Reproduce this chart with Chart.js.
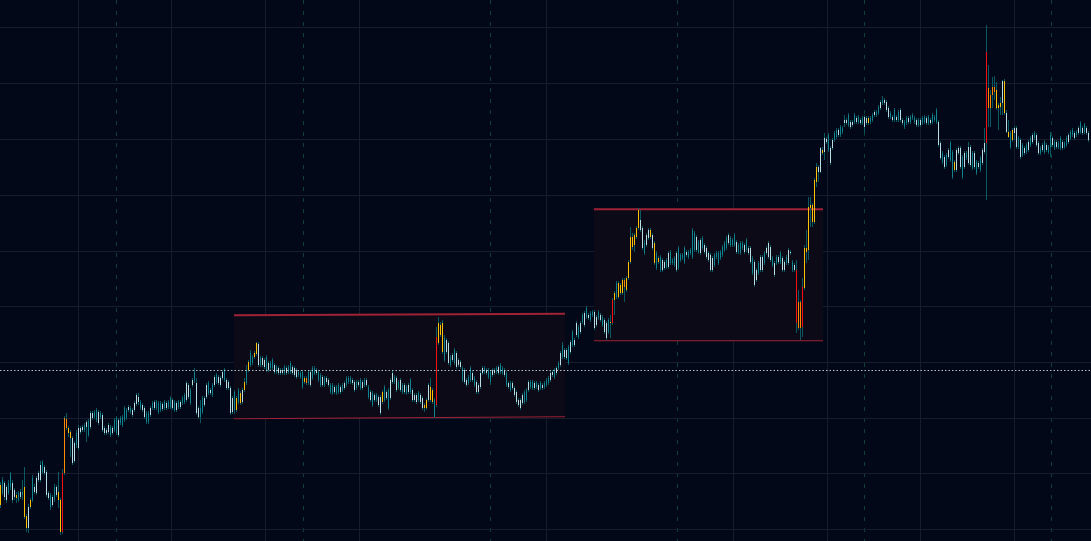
<!DOCTYPE html>
<html lang="en">
<head>
<meta charset="utf-8">
<title>Price chart</title>
<script src="https://cdn.jsdelivr.net/npm/chart.js@4.4.0/dist/chart.umd.min.js"></script>
<style>
  html, body { margin: 0; padding: 0; background: #020818; overflow: hidden; }
  #wrap { position: relative; width: 1091px; height: 541px; }
</style>
</head>
<body>
<div id="wrap"><canvas id="priceChart"></canvas></div>
<script>
// =================================================================
// DATA: one candle per bar (price in points)
// =================================================================
const open = [
  515,507,517,513,507,513,517,503,505,500, // 0
  508,505,513,484,472,493,500,513,507,520,
  520,538,533,528,507,505,495,500,513,508,
  500,468,527,581,572,568,562,539,555,572,
  568,570,570,573,579,573,587,583,590,588,
  583,585,572,567,568,573,567,570,582,565, // 50
  577,575,580,590,590,592,590,590,596,603,
  598,595,592,587,578,585,592,598,592,597,
  590,596,592,597,593,593,600,590,597,593,
  598,597,598,600,615,610,615,620,617,592,
  583,588,602,603,617,610,605,615,618,623, // 100
  622,622,620,620,618,612,588,590,602,598,
  607,598,610,617,630,635,643,643,646,656,
  635,642,640,630,637,632,632,635,628,632,
  630,627,627,632,628,628,633,632,630,625,
  623,613,622,622,617,628,622,627,630,628, // 150
  615,623,615,622,620,615,607,613,607,608,
  613,610,612,615,622,618,620,618,612,618,
  612,618,615,620,613,608,607,600,600,603,
  603,598,600,608,610,602,618,623,622,612,
  620,608,615,607,615,608,610,605,605,600, // 200
  605,602,595,592,600,613,610,600,595,657,
  675,677,662,648,657,643,640,637,647,640,
  638,632,630,620,617,620,627,622,618,615,
  613,627,632,630,630,628,625,630,628,633,
  628,632,630,627,617,617,612,612,608,600, // 250
  600,597,598,600,610,618,612,617,613,615,
  612,615,613,615,617,620,628,623,632,632,
  635,643,650,650,637,648,655,660,665,673,
  668,678,687,683,685,680,685,688,675,682,
  685,683,680,677,668,678,677,700,703,717, // 300
  707,707,720,710,722,738,763,755,763,772,
  780,772,757,755,762,770,765,757,747,738,
  743,730,738,733,733,737,740,735,747,732,
  745,742,738,748,743,747,743,767,763,748,
  760,752,755,752,747,745,730,735,747,737, // 350
  742,745,750,752,757,762,755,755,758,748,
  757,752,755,750,752,752,742,738,720,727,
  730,743,737,747,757,753,742,737,737,743,
  738,742,730,737,737,748,738,735,730,698,
  672,673,712,752,750,795,795,778,818,833, // 400
  828,850,848,861,865,852,852,860,863,870,
  865,872,877,880,875,878,878,878,882,878,
  880,877,883,877,882,878,880,885,885,887,
  892,897,900,898,892,883,883,880,883,880,
  890,880,878,877,882,878,882,882,880,875, // 450
  880,877,878,882,877,880,878,883,878,878,
  857,847,843,835,843,840,848,830,830,852,
  852,843,833,842,853,835,847,833,838,833,
  830,837,848,857,912,892,905,913,910,895,
  893,897,919,887,868,867,860,872,872,853, // 500
  860,845,852,848,850,855,858,862,865,857,
  847,850,848,855,848,853,862,858,853,853,
  852,858,853,855,858,862,865,867,865,867,
  868,872,868,872,867
];

const high = [
  518,523,519,515,520,528,520,512,508,509, // 0
  511,520,533,486,496,502,525,516,524,529,
  539,540,535,530,509,507,505,516,515,528,
  502,531,584,587,574,570,564,559,570,575,
  574,575,577,580,581,589,589,590,592,590,
  589,587,574,572,577,575,574,582,584,582, // 50
  584,585,594,592,595,594,592,599,607,607,
  600,597,594,589,589,594,599,600,600,599,
  599,598,600,599,600,604,602,600,599,600,
  600,604,607,619,617,612,622,632,622,594,
  600,604,604,617,619,612,617,625,627,625, // 100
  624,630,632,622,620,614,604,610,604,612,
  609,612,622,635,640,650,645,649,658,658,
  644,644,642,645,639,639,642,637,635,634,
  632,632,635,634,635,639,635,634,632,630,
  629,630,624,624,630,630,634,634,632,630, // 150
  627,625,624,624,622,617,617,615,615,617,
  615,617,619,624,624,624,622,620,620,620,
  622,620,622,622,615,610,609,607,607,605,
  605,610,615,610,612,622,629,625,624,620,
  622,617,617,615,617,622,612,607,607,609, // 200
  607,604,597,602,617,622,612,602,673,683,
  678,680,665,662,659,645,647,652,649,642,
  640,634,632,622,625,634,629,624,620,617,
  629,634,634,632,632,630,632,632,634,635,
  637,634,632,629,619,619,619,614,610,602, // 250
  602,607,610,612,620,620,620,619,619,617,
  619,617,619,622,624,629,630,632,634,639,
  649,658,652,652,655,660,670,662,679,675,
  679,687,689,694,687,689,690,690,685,690,
  687,685,682,679,682,685,702,709,719,719, // 300
  717,722,722,724,740,773,767,767,774,792,
  790,774,760,767,772,772,767,759,749,744,
  745,742,740,742,749,750,742,744,749,754,
  747,747,754,750,750,752,772,769,765,760,
  762,764,757,754,749,747,744,747,749,749, // 350
  750,755,759,764,767,764,762,767,760,757,
  759,759,757,762,754,754,744,740,732,739,
  745,745,749,754,759,755,744,739,745,745,
  749,744,740,745,752,750,740,737,740,710,
  700,722,755,770,803,803,797,822,837,835, // 400
  853,853,867,863,867,854,862,869,872,872,
  875,874,885,882,887,880,880,887,884,885,
  882,884,885,884,884,884,887,890,890,895,
  900,904,902,900,894,889,885,892,885,890,
  892,882,880,884,884,885,887,884,882,882, // 450
  882,884,885,884,885,882,887,885,892,880,
  859,849,845,847,852,859,850,840,852,854,
  854,845,849,849,858,855,849,849,840,839,
  844,852,872,975,935,910,923,924,918,897,
  903,920,921,890,880,869,872,874,874,864, // 500
  862,857,854,857,860,864,867,869,867,859,
  854,857,860,857,855,868,864,860,860,859,
  864,860,859,864,867,870,872,869,870,874,
  879,874,877,874,869
];

const low = [
  492,505,500,497,505,510,497,500,497,498, // 0
  501,500,481,468,467,491,498,506,505,518,
  518,526,525,503,500,490,493,498,503,492,
  465,466,525,570,563,543,535,537,552,550,
  566,568,568,558,563,571,580,581,578,575,
  581,568,565,565,566,563,565,568,565,563, // 50
  575,573,578,580,588,586,583,588,594,595,
  590,588,581,576,576,583,590,590,590,586,
  588,589,590,590,591,591,590,588,588,591,
  591,595,596,598,601,595,613,617,585,581,
  577,586,593,601,605,605,603,613,616,615, // 100
  613,620,618,610,610,585,586,586,588,596,
  595,596,608,615,628,633,635,641,644,633,
  633,633,631,628,628,630,630,626,626,625,
  625,625,625,625,626,626,625,623,621,623,
  621,611,616,615,615,613,620,625,625,618, // 150
  613,613,613,616,613,606,605,606,605,606,
  606,608,610,613,616,616,615,608,610,613,
  610,610,613,613,601,598,593,598,598,593,
  585,596,598,600,590,600,616,616,608,610,
  608,606,606,605,606,606,598,598,596,598, // 200
  596,590,588,590,598,598,596,582,593,655,
  663,646,638,646,635,633,638,635,631,633,
  631,618,616,613,615,618,618,613,606,606,
  611,625,626,625,621,615,623,625,626,625,
  626,625,623,613,611,608,610,603,596,593, // 250
  590,595,596,598,608,611,610,610,611,608,
  610,610,611,613,615,618,623,621,625,630,
  633,641,641,640,635,646,653,653,663,661,
  666,676,673,681,680,678,683,670,673,680,
  678,673,666,660,666,662,675,685,701,701, // 300
  705,705,698,708,720,736,750,748,761,770,
  768,750,745,753,760,761,750,735,730,736,
  728,728,730,731,731,735,735,733,728,730,
  738,740,736,743,741,745,741,748,748,746,
  745,750,746,741,738,728,728,733,741,735, // 350
  740,743,748,750,755,753,753,753,746,746,
  745,750,746,748,745,736,725,713,718,725,
  728,728,735,745,741,738,733,723,735,736,
  736,728,728,735,735,745,728,728,667,670,
  660,663,710,737,740,773,773,776,813,818, // 400
  827,845,840,856,848,835,850,858,861,863,
  863,866,873,875,873,871,873,876,876,876,
  875,875,867,875,875,876,878,883,883,885,
  890,895,895,888,881,881,878,878,878,878,
  878,875,871,875,876,876,880,876,873,873, // 450
  873,875,876,875,875,875,876,878,876,853,
  840,836,831,833,841,838,821,828,828,845,
  831,821,831,840,835,833,830,831,825,831,
  828,835,846,800,873,873,892,900,890,870,
  885,885,885,867,862,851,858,860,851,851, // 500
  841,843,845,846,848,853,856,860,853,845,
  845,848,846,848,846,843,853,850,851,851,
  850,850,851,853,856,860,863,860,863,865,
  866,865,866,865,858
];

const close = [
  495,520,503,500,517,526,500,510,502,507, // 0
  503,508,483,472,493,500,522,508,522,527,
  535,528,527,505,502,493,503,513,505,500,
  468,527,582,572,567,562,537,557,567,552,
  572,573,575,578,565,587,582,588,580,577,
  587,570,567,570,575,565,572,580,567,580, // 50
  582,583,592,582,593,588,585,597,605,598,
  592,590,583,578,587,592,597,592,598,588,
  597,591,598,592,598,602,592,598,590,598,
  593,602,605,617,603,597,620,628,587,583,
  592,602,595,615,607,607,615,623,625,617, // 100
  615,628,630,612,612,587,602,608,590,610,
  597,610,618,630,638,647,637,647,657,635,
  642,635,633,643,630,637,640,628,633,627,
  627,630,633,627,633,637,627,625,623,628,
  627,628,618,617,628,615,632,632,627,620, // 150
  625,615,622,618,615,608,615,608,613,615,
  608,615,617,622,618,622,617,610,618,615,
  620,612,620,615,603,600,595,605,605,595,
  587,608,613,602,592,620,627,618,610,618,
  610,615,608,613,608,620,600,600,598,607, // 200
  598,592,592,600,615,600,598,583,663,677,
  665,648,640,660,637,635,645,650,633,635,
  633,620,618,615,623,632,620,615,608,608,
  627,632,628,627,623,618,630,627,632,627,
  635,627,625,615,613,610,617,605,598,595, // 250
  592,605,608,610,618,613,618,612,617,610,
  617,612,617,620,622,627,625,630,627,637,
  647,655,643,642,653,658,668,655,677,663,
  677,685,675,692,682,687,688,672,683,688,
  680,675,668,662,680,677,700,707,717,703, // 300
  715,720,713,722,738,763,753,765,772,790,
  770,752,747,765,770,763,752,737,732,742,
  730,740,732,740,747,748,737,742,730,752,
  740,745,752,745,748,750,770,750,750,758,
  747,762,748,743,740,730,742,745,743,747, // 350
  748,753,757,762,765,755,760,765,748,755,
  747,757,748,760,747,738,727,715,730,737,
  743,730,747,752,743,740,735,725,743,738,
  747,730,738,743,750,747,730,730,677,672,
  698,713,752,748,793,792,778,820,833,828, // 400
  852,847,862,858,850,837,860,867,870,865,
  873,868,880,877,885,873,875,885,878,883,
  877,882,873,882,877,882,885,888,888,893,
  898,900,897,890,883,887,880,890,880,888,
  880,877,873,882,878,883,885,878,875,880, // 450
  875,882,883,877,883,877,885,880,890,855,
  842,838,833,845,850,857,823,838,850,847,
  833,823,847,847,837,853,832,847,827,837,
  842,850,857,948,892,905,913,908,892,892,
  897,919,887,868,863,853,870,867,853,862, // 500
  843,855,847,855,858,862,865,867,855,847,
  852,855,858,850,853,865,855,852,858,857,
  862,852,857,862,865,868,870,862,868,872,
  877,867,875,867,860
];

// body tone per candle: l = light, t = teal, y = yellow, o = orange, r = red
const tones = [
  'ytllttllyt','ltyylytlll','ltllltltly','yrooyylltl','lltltllttl',
  'tlllltlttl','ttttltllll','tllttltltt','tltlttltlt','lttlltltll',
  'ttlltltltl','lltlllltyt','ylytyttyyl','tlltlttltl','lltlttlllt',
  'ttyotlttlt','tltllttltt','ltltttlltl','tltltltltl','lytltlltlt',
  'ltltltlllt','llyylyytry','yytlltltll','ltllttltll','lltlttlltl',
  'ttltltllll','llttlttltl','tltttlltlt','ltlltltllt','ltltlttllt',
  'ltlltyryty','yyoyyyyyyy','lltllylyty','tlltltttlt','tttlttttlt',
  'ltlllllttt','ttttltttlt','ttltlltllt','lltllltltl','tlltlltlro',
  'oryyyyyyyl','lylltllttl','ttlltlltlt','ltllyttltt','ltllltltlt',
  'llttltttlt','lttltltttl','ltltlttyll','ltltlltltl','tllrooooyy',
  'ylylytyllt','ltltltltll','tltlttltlt','tlttlttltl','tltll'
].join('');

// grid positions (price for the rows, candle index for the columns)
const priceGrid = [972, 916, 861, 805, 749, 694, 638, 582, 527, 471];
const timeGrid = [38.9, 85.4, 132.4, 179.4, 273.1, 366.4, 413.4, 459.9, 506.9];
const sessionGrid = [57.9, 151.4, 244.9, 338.4, 431.9, 525.4];

// dotted reference level
const refLevel = 629.5;

// the two range boxes: [start, end] candle index, price at start and end
const box1Span = [116.75, 282.25];
const box1Top = [684.7, 686.3];
const box1Bottom = [581.7, 583.7];
const box2Span = [296.75, 411.25];
const box2Top = [790.7, 790.7];
const box2Bottom = [659.7, 659.7];

// visible window
const xRange = [-0.25, 545.25];
const yRange = [459, 1000];

// =================================================================
// STYLE
// =================================================================
const toneColor = { l: '#b9dfe5', t: '#0f8592', y: '#ffc107', o: '#ff8c00', r: '#f21212' };
const wickColor = '#0a5961';
const gridColor = '#181d2b';
const sessionColor = '#0d3f35';
const boxEdge = 'rgba(168, 36, 56, 0.95)';
const boxFill = '#0d0a18';

// =================================================================
// CHART
// =================================================================
document.addEventListener('DOMContentLoaded', function () {
    const ctx = document.getElementById('priceChart').getContext('2d');

    const idx = open.map((_, i) => i);
    const bodies = idx.map(i => ({ x: i, y: [open[i], close[i]] }));
    const wicks = idx.map(i => ({ x: i, y: [low[i], high[i]] }));
    const bodyColors = idx.map(i => toneColor[tones[i]] || toneColor.t);

    // box edge as a two point line
    const edge = (span, vals) => [{ x: span[0], y: vals[0] }, { x: span[1], y: vals[1] }];

    const boxLine = (data, fill) => ({
        type: 'line',
        data: data,
        borderColor: boxEdge,
        borderWidth: 2,
        pointRadius: 0,
        fill: fill,
        backgroundColor: boxFill,
        order: 5
    });

    const setTicks = values => scale => { scale.ticks = values.map(v => ({ value: v })); };

    const hiddenAxis = {
        type: 'linear',
        min: xRange[0],
        max: xRange[1],
        offset: false,
        ticks: { display: false },
        border: { display: false }
    };

    new Chart(ctx, {
        type: 'bar',
        data: {
            datasets: [
                {
                    type: 'line',
                    data: edge(xRange, [refLevel, refLevel]),
                    borderColor: 'rgba(205, 228, 236, 0.85)',
                    borderWidth: 1,
                    borderDash: [1.5, 2],
                    pointRadius: 0,
                    fill: false,
                    order: 0
                },
                {
                    data: bodies,
                    backgroundColor: bodyColors,
                    barThickness: 1,
                    grouped: false,
                    minBarLength: 1,
                    inflateAmount: 0,
                    borderWidth: 0,
                    order: 1
                },
                {
                    data: wicks,
                    backgroundColor: wickColor,
                    barThickness: 1,
                    grouped: false,
                    inflateAmount: 0,
                    borderWidth: 0,
                    order: 2
                },
                boxLine(edge(box1Span, box1Top), '+1'),
                boxLine(edge(box1Span, box1Bottom), false),
                boxLine(edge(box2Span, box2Top), '+1'),
                boxLine(edge(box2Span, box2Bottom), false)
            ]
        },
        options: {
            responsive: true,
            maintainAspectRatio: false,
            devicePixelRatio: 1,
            animation: false,
            events: [],
            layout: { padding: 0 },
            plugins: {
                legend: { display: false },
                tooltip: { enabled: false }
            },
            scales: {
                x: Object.assign({}, hiddenAxis, {
                    grid: { color: gridColor, lineWidth: 1, drawTicks: false, offset: false },
                    afterBuildTicks: setTicks(timeGrid)
                }),
                xs: Object.assign({}, hiddenAxis, {
                    position: 'bottom',
                    grid: { color: sessionColor, lineWidth: 1, drawTicks: false, offset: false },
                    border: { display: false, dash: [4, 7] },
                    afterBuildTicks: setTicks(sessionGrid)
                }),
                y: {
                    type: 'linear',
                    min: yRange[0],
                    max: yRange[1],
                    ticks: { display: false },
                    border: { display: false },
                    grid: { color: gridColor, lineWidth: 1, drawTicks: false },
                    afterBuildTicks: setTicks(priceGrid)
                }
            }
        }
    });
});
</script>
</body>
</html>
